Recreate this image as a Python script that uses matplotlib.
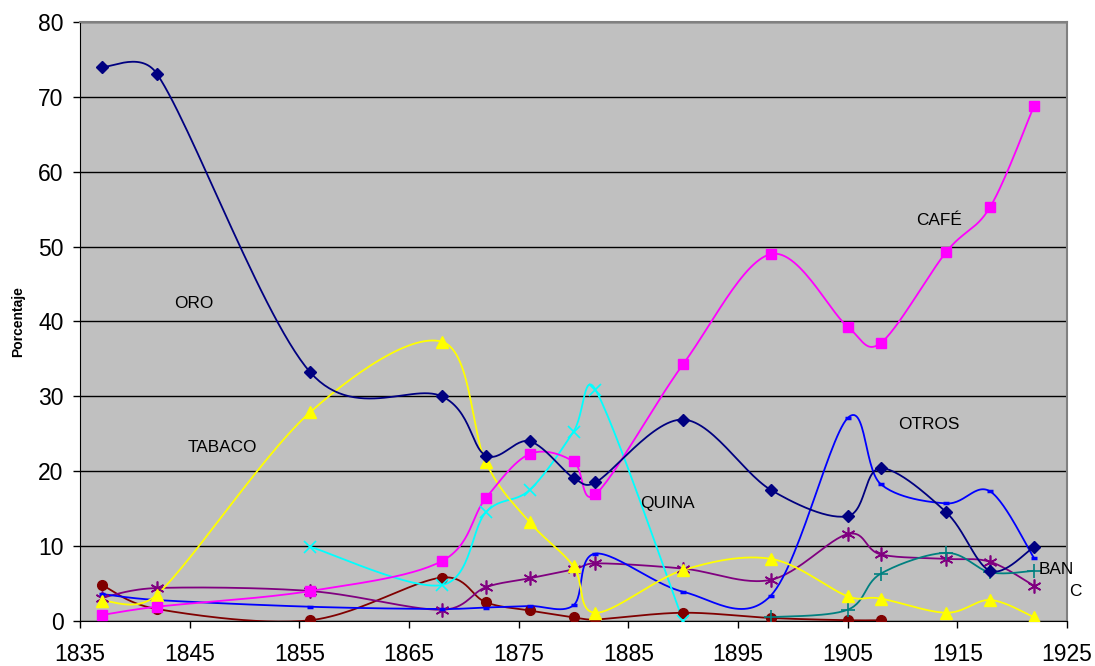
import numpy as np
import matplotlib
matplotlib.use("Agg")
import matplotlib.pyplot as plt

plt.rcParams["font.family"] = ["Liberation Sans", "DejaVu Sans"]

years = [1837, 1842, 1856, 1868, 1872, 1876, 1880, 1882, 1890, 1898, 1905, 1908, 1914, 1918, 1922]

oro = [74.0, 73.1, 33.2, 30.0, 22.1, 24.0, 19.1, 18.5, 26.9, 17.5, 14.0, 20.4, 14.5, 6.7, 9.9]
cafe = [0.8, 1.9, 4.0, 8.0, 16.4, 22.3, 21.3, 16.9, 34.3, 49.0, 39.3, 37.1, 49.3, 55.3, 68.8]
tabaco = [2.7, 3.5, 27.9, 37.3, 21.2, 13.2, 7.3, 1.1, 6.8, 8.3, 3.3, 3.0, 1.1, 2.8, 0.5]
otros = [3.6, 2.8, 1.9, 1.6, 1.8, 2.0, 2.1, 9.0, 3.9, 3.4, 27.1, 18.3, 15.7, 17.3, 8.4]
cueros = [3.1, 4.4, 4.0, 1.5, 4.5, 5.7, 6.9, 7.7, 7.0, 5.5, 11.6, 8.9, 8.3, 7.9, 4.7]

quina_years = [1856, 1868, 1872, 1876, 1880, 1882, 1890]
quina = [9.9, 4.8, 14.5, 17.5, 25.3, 30.9, 0.0]

ban_years = [1898, 1905, 1908, 1914, 1918, 1922]
banano = [0.5, 1.5, 6.3, 9.1, 6.5, 6.7]

otro2_years = [1837, 1842, 1856, 1868, 1872, 1876, 1880, 1882, 1890, 1898, 1905, 1908]
otro2 = [4.8, 1.6, 0.1, 5.8, 2.5, 1.4, 0.5, 0.2, 1.1, 0.4, 0.1, 0.1]

# pixel scale (per year / per percent) so the smoothing follows screen shape like Excel
SX, SY = 10.97, 7.5


def cap(v, lim):
    n = np.hypot(*v)
    return v * (lim / n) if n > lim else v


def smooth(xs, ys, n=30):
    px = np.array(xs, float) * SX
    py = np.array(ys, float) * SY
    P = np.column_stack([px, py])
    Pm = np.vstack([P[0], P, P[-1]])
    out = []
    for i in range(len(P) - 1):
        p0, p1, p2, p3 = Pm[i], Pm[i + 1], Pm[i + 2], Pm[i + 3]
        seglen = np.hypot(*(p2 - p1))
        c1 = p1 + cap((p2 - p0) / 6, 0.5 * seglen)
        c2 = p2 - cap((p3 - p1) / 6, 0.5 * seglen)
        t = np.linspace(0, 1, n)[:, None]
        seg = (1 - t) ** 3 * p1 + 3 * (1 - t) ** 2 * t * c1 + 3 * (1 - t) * t ** 2 * c2 + t ** 3 * p2
        out.append(seg if i == 0 else seg[1:])
    c = np.vstack(out)
    return c[:, 0] / SX, c[:, 1] / SY


fig = plt.figure(figsize=(10.95, 6.66), dpi=100)
ax = fig.add_axes([0.0731, 0.0676, 0.9013, 0.8994])
ax.set_facecolor("#C0C0C0")

series = [
    (otro2_years, otro2, "#800000", "o", 7, 1),
    (years, cueros, "#800080", (6, 2, 0), 10, 1.2),
    (ban_years, banano, "#008080", "+", 10, 1.2),
    (years, otros, "#0000FF", "_", 5, 2.5),
    (quina_years, quina, "#00FFFF", "x", 8, 1.2),
    (years, tabaco, "#FFFF00", "^", 8, 1),
    (years, cafe, "#FF00FF", "s", 7, 1),
    (years, oro, "#000080", "D", 6, 1),
]

for xs, ys, col, mk, ms, mew in series:
    sx, sy = smooth(xs, ys)
    ax.plot(sx, sy, color=col, lw=1.3, zorder=3)
    ax.plot(xs, ys, ls="none", marker=mk, ms=ms, color=col, mew=mew, zorder=4)

ax.set_xlim(1835, 1925)
ax.set_ylim(0, 80)
ax.set_xticks(range(1835, 1926, 10))
ax.set_yticks(range(0, 81, 10))
ax.yaxis.grid(True, color="black", lw=1)
ax.set_axisbelow(True)
ax.tick_params(direction="out", length=5, width=1, labelsize=16.5)
ax.tick_params(axis="x", pad=11)
ax.tick_params(axis="y", pad=7)
ax.spines["top"].set_color("#808080")
ax.spines["right"].set_color("#808080")
for s in ["top", "right"]:
    ax.spines[s].set_linewidth(1.5)

kw = dict(fontsize=12.4, color="black", zorder=5)
ax.text(1845.4, 42.4, "ORO", ha="center", va="center", **kw)
ax.text(1848.0, 23.2, "TABACO", ha="center", va="center", **kw)
ax.text(1888.6, 15.7, "QUINA", ha="center", va="center", **kw)
ax.text(1912.4, 26.3, "OTROS", ha="center", va="center", **kw)
ax.text(1913.3, 53.5, "CAFÉ", ha="center", va="center", **kw)
ax.text(1922.4, 6.9, "BAN", ha="left", va="center", clip_on=False, **kw)
ax.text(1925.8, 3.9, "C", ha="center", va="center", clip_on=False, **kw)

fig.text(18 / 1095, 1 - 322 / 666, "Porcentaje", rotation=90, ha="center", va="center",
         fontsize=10, fontweight="bold")

fig.savefig("out.png", dpi=100)
